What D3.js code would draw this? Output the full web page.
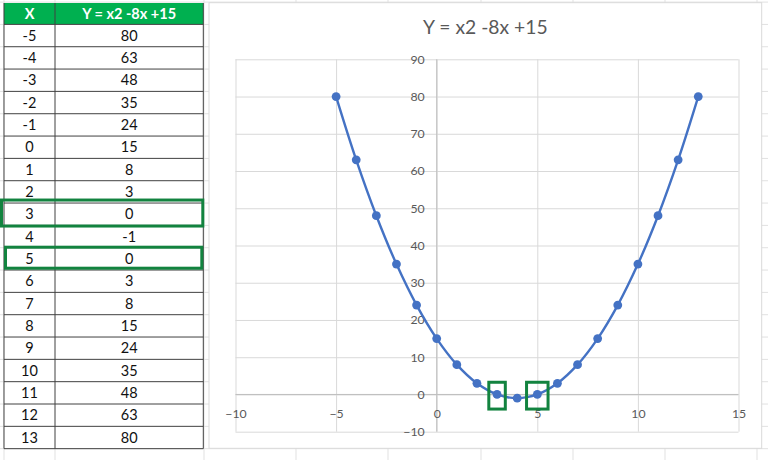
<!DOCTYPE html>
<html>
<head>
<meta charset="utf-8">
<script src="https://cdn.jsdelivr.net/npm/d3@7"></script>
<style>
  body { margin: 0; background: #fff; }
  svg { display: block; font-family: Lato, "Open Sans", sans-serif; }
</style>
</head>
<body>
<svg width="768" height="460"></svg>
<script>
(function(){
	'use strict';

	// data, as read from the sheet
	const xValues = [-5, -4, -3, -2, -1, 0, 1, 2, 3, 4, 5, 6, 7, 8, 9, 10, 11, 12, 13];
	const yValues = [80, 63, 48, 35, 24, 15, 8, 3, 0, -1, 0, 3, 8, 15, 24, 35, 48, 63, 80];
	const headers = ['X', 'Y = x2 -8x +15'];
	const chartTitle = 'Y = x2 -8x +15';
	const xTicks = [-10, -5, 0, 5, 10, 15];
	const yTicks = [-10, 0, 10, 20, 30, 40, 50, 60, 70, 80, 90];
	const rootXs = [3, 5];

	const points = xValues.map((x, i) => ({x: x, y: yValues[i]}));

	const svg = d3.select('svg');
	const width = 768;
	const height = 460;

	const sheetGrid = '#e1e1e1';
	const green = '#12833f';
	const blue = '#4472c4';
	const textGray = '#595959';

	// spreadsheet background
	const rowTop = 2.1;
	const rowH = 22.33;
	const colLines = [4, 55, 204, 296, 388, 481, 573, 665, 757];

	const bg = svg.append('g');
	bg.selectAll('line.row')
		.data(d3.range(0, 21))
		.join('line')
			.attr('x1', 0).attr('x2', width)
			.attr('y1', k => rowTop + k * rowH)
			.attr('y2', k => rowTop + k * rowH)
			.attr('stroke', sheetGrid);
	bg.selectAll('line.col')
		.data(colLines)
		.join('line')
			.attr('x1', d => d).attr('x2', d => d)
			.attr('y1', 0).attr('y2', height)
			.attr('stroke', sheetGrid);

	// table
	const tableLeft = 4;
	const colX = [4, 55, 203.3];
	const tableTop = 3;
	const headerBottom = 24.4;
	const table = svg.append('g');

	table.append('rect')
		.attr('x', tableLeft).attr('y', tableTop)
		.attr('width', colX[2] - tableLeft).attr('height', headerBottom - tableTop)
		.attr('fill', '#00b050');

	table.append('rect')
		.attr('x', tableLeft).attr('y', headerBottom)
		.attr('width', colX[2] - tableLeft).attr('height', rowH * points.length)
		.attr('fill', '#fff');

	table.selectAll('text.head')
		.data(headers)
		.join('text')
			.attr('x', (d, i) => (colX[i] + colX[i + 1]) / 2)
			.attr('y', (tableTop + headerBottom) / 2)
			.attr('dy', '0.36em')
			.attr('text-anchor', 'middle')
			.attr('fill', '#fff')
			.attr('font-weight', 'bold')
			.attr('font-size', 14.5)
			.text(d => d);

	const rows = table.selectAll('g.row')
		.data(points)
		.join('g')
			.attr('transform', (d, i) => `translate(0, ${headerBottom + i * rowH})`);

	rows.append('text')
		.attr('x', (colX[0] + colX[1]) / 2)
		.attr('y', rowH / 2)
		.attr('dy', '0.36em')
		.attr('text-anchor', 'middle')
		.attr('font-size', 14.5)
		.attr('fill', '#111')
		.text(d => d.x);

	rows.append('text')
		.attr('x', (colX[1] + colX[2]) / 2)
		.attr('y', rowH / 2)
		.attr('dy', '0.36em')
		.attr('text-anchor', 'middle')
		.attr('font-size', 14.5)
		.attr('fill', '#111')
		.text(d => d.y);

	const tableBottom = headerBottom + rowH * points.length;
	table.selectAll('line.hr')
		.data(d3.range(0, points.length + 1))
		.join('line')
			.attr('x1', tableLeft).attr('x2', colX[2])
			.attr('y1', k => headerBottom + k * rowH)
			.attr('y2', k => headerBottom + k * rowH)
			.attr('stroke', '#404040');
	table.selectAll('line.vr')
		.data(colX)
		.join('line')
			.attr('x1', d => d).attr('x2', d => d)
			.attr('y1', tableTop).attr('y2', tableBottom)
			.attr('stroke', '#404040');

	// green boxes around the roots in the table
	const rootRows = rootXs.map(r => xValues.indexOf(r));
	table.selectAll('rect.hl')
		.data(rootRows)
		.join('rect')
			.attr('x', (d, i) => i === 0 ? 1.5 : 5.5)
			.attr('y', d => headerBottom + d * rowH - (d === rootRows[0] ? 3 : 0.5))
			.attr('width', (d, i) => i === 0 ? 201.3 : 196.3)
			.attr('height', (d, i) => i === 0 ? 26 : 21)
			.attr('fill', 'none')
			.attr('stroke', green)
			.attr('stroke-width', 3);

	// chart area
	const chart = {left: 209, top: 2.7, right: 761.7, bottom: 448.3};
	svg.append('rect')
		.attr('x', chart.left).attr('y', chart.top)
		.attr('width', chart.right - chart.left).attr('height', chart.bottom - chart.top)
		.attr('fill', '#fff')
		.attr('stroke', '#d9d9d9');

	svg.append('text')
		.attr('x', (chart.left + chart.right) / 2)
		.attr('y', 27.5)
		.attr('dy', '0.36em')
		.attr('text-anchor', 'middle')
		.attr('font-size', 19.3)
		.attr('fill', textGray)
		.text(chartTitle);

	const plot = {left: 235.5, right: 738.5, top: 59.3, bottom: 431.7};
	const x = d3.scaleLinear().domain([-10, 15]).range([plot.left, plot.right]);
	const y = d3.scaleLinear().domain([-10, 90]).range([plot.bottom, plot.top]);

	const g = svg.append('g');

	g.append('g')
		.attr('transform', `translate(0, ${plot.bottom})`)
		.call(d3.axisBottom(x).tickValues(xTicks).tickSize(-(plot.bottom - plot.top)).tickFormat(''))
		.call(a => a.select('.domain').remove())
		.call(a => a.selectAll('line').attr('stroke', '#d9d9d9'));

	g.append('g')
		.attr('transform', `translate(${plot.left}, 0)`)
		.call(d3.axisLeft(y).tickValues(yTicks).tickSize(-(plot.right - plot.left)).tickFormat(''))
		.call(a => a.select('.domain').remove())
		.call(a => a.selectAll('line').attr('stroke', '#d9d9d9'));

	// axis lines through the origin
	g.append('line')
		.attr('x1', x(0)).attr('x2', x(0))
		.attr('y1', plot.top).attr('y2', plot.bottom)
		.attr('stroke', '#bfbfbf');
	g.append('line')
		.attr('x1', plot.left).attr('x2', plot.right)
		.attr('y1', y(0)).attr('y2', y(0))
		.attr('stroke', '#bfbfbf');

	g.append('g')
		.attr('transform', `translate(0, ${y(0)})`)
		.call(d3.axisBottom(x).tickValues(xTicks).tickSize(0).tickPadding(14.5))
		.call(a => a.select('.domain').remove())
		.call(a => a.selectAll('text')
			.attr('font-family', 'Lato, "Open Sans", sans-serif')
			.attr('font-size', 12.3)
			.attr('fill', textGray));

	g.append('g')
		.attr('transform', `translate(${x(0)}, 0)`)
		.call(d3.axisLeft(y).tickValues(yTicks).tickSize(0).tickPadding(12))
		.call(a => a.select('.domain').remove())
		.call(a => a.selectAll('text')
			.attr('font-family', 'Lato, "Open Sans", sans-serif')
			.attr('font-size', 12.3)
			.attr('fill', textGray));

	// the curve
	const line = d3.line()
		.x(d => x(d.x))
		.y(d => y(d.y))
		.curve(d3.curveCatmullRom.alpha(0.5));

	g.append('path')
		.datum(points)
		.attr('d', line)
		.attr('fill', 'none')
		.attr('stroke', blue)
		.attr('stroke-width', 2.4);

	g.selectAll('circle')
		.data(points)
		.join('circle')
			.attr('cx', d => x(d.x))
			.attr('cy', d => y(d.y))
			.attr('r', 4.4)
			.attr('fill', blue);

	// green boxes around the roots on the chart
	const boxW = [16.5, 21.5];
	g.selectAll('rect.root')
		.data(rootXs)
		.join('rect')
			.attr('x', (d, i) => x(d) - boxW[i] / 2)
			.attr('y', y(0) - 12.2)
			.attr('width', (d, i) => boxW[i])
			.attr('height', 26.8)
			.attr('fill', 'none')
			.attr('stroke', green)
			.attr('stroke-width', 3);
})();
</script>
</body>
</html>
